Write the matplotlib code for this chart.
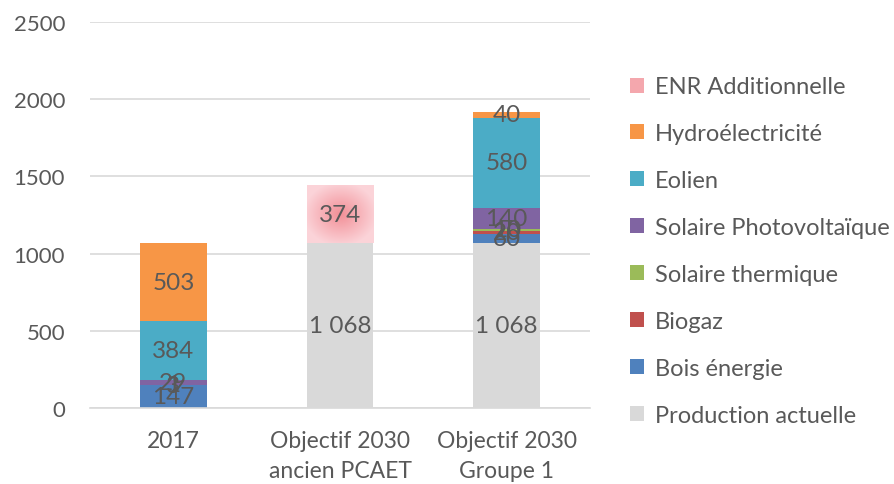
import numpy as np
import matplotlib.pyplot as plt
from matplotlib.patches import Patch

# categories and series (stacked from bottom to top)
categories = ["2017", "Objectif 2030\nancien PCAET", "Objectif 2030\nGroupe 1"]
series_names = ["Production actuelle", "Bois énergie", "Biogaz", "Solaire thermique",
                "Solaire Photovoltaïque", "Eolien", "Hydroélectricité", "ENR Additionnelle"]
production_actuelle = [0, 1068, 1068]
bois_energie = [147, 0, 60]
biogaz = [3, 0, 20]
solaire_thermique = [1, 0, 10]
solaire_pv = [29, 0, 140]
eolien = [384, 0, 580]
hydro = [503, 0, 40]
enr_additionnelle = [0, 374, 0]

colors = ["#d9d9d9", "#4f81bd", "#c0504d", "#9bbb59",
          "#8064a2", "#4bacc6", "#f79646", None]

plt.rcParams['font.family'] = ['Lato', 'DejaVu Sans']
text_col = "#595959"

fig = plt.figure(figsize=(8.94, 4.85), dpi=100)
ax = fig.add_axes([0.1007, 0.1567, 0.5593, 0.7959])

all_series = [production_actuelle, bois_energie, biogaz, solaire_thermique,
              solaire_pv, eolien, hydro, enr_additionnelle]
x = np.arange(len(categories))
width = 0.4
bottom = np.zeros(len(categories))


def fmt(v):
    return f"{v:,}".replace(",", " ")


for name, vals, col in zip(series_names, all_series, colors):
    vals = np.array(vals, dtype=float)
    if col is None:
        # radial pink gradient for the additional share
        bars = ax.bar(x, vals, width, bottom=bottom, facecolor="none", edgecolor="none")
        yy, xx = np.mgrid[-1:1:200j, -1:1:200j]
        r = np.clip(np.sqrt(xx ** 2 + yy ** 2) / 1.1, 0, 1)
        c0 = np.array([0.95, 0.56, 0.59])
        c1 = np.array([0.985, 0.83, 0.85])
        img = c0[None, None, :] * (1 - r[..., None]) + c1[None, None, :] * r[..., None]
        for b in bars:
            if b.get_height() <= 0:
                continue
            x0, y0 = b.get_x(), b.get_y()
            im = ax.imshow(img, extent=[x0, x0 + b.get_width(), y0, y0 + b.get_height()],
                           aspect="auto", zorder=2, interpolation="bilinear")
            im.set_clip_path(b)
    else:
        ax.bar(x, vals, width, bottom=bottom, color=col, zorder=2)
    for i, v in enumerate(vals):
        if v > 0:
            ax.text(x[i], bottom[i] + v / 2, fmt(int(v)), ha="center", va="center",
                    fontsize=17.5, color=text_col, zorder=4)
    bottom += vals

ax.set_xlim(-0.5, 2.5)
ax.set_ylim(0, 2500)
ax.set_yticks(range(0, 2501, 500))
ax.set_xticks(x)
ax.set_xticklabels(categories, linespacing=1.5, fontsize=16.5)
ax.yaxis.grid(True, color="#d9d9d9", linewidth=1.2)
ax.set_axisbelow(True)
for s in ["top", "right", "left"]:
    ax.spines[s].set_visible(False)
ax.spines["bottom"].set_color("#d9d9d9")
ax.spines["bottom"].set_linewidth(1.2)
ax.tick_params(length=0, colors=text_col)
ax.tick_params(axis="y", pad=18, labelsize=16)
ax.tick_params(axis="x", pad=16)

handles = []
for name, col in zip(series_names, colors):
    handles.append(Patch(facecolor=col if col else "#f4a7ad", label=name))
handles = handles[::-1]
leg = fig.legend(handles=handles, loc="upper left", bbox_to_anchor=(0.694, 0.86),
                 frameon=False, fontsize=17, labelcolor=text_col,
                 handlelength=0.6, handleheight=0.6, handletextpad=0.45,
                 labelspacing=1.1, borderaxespad=0)

fig.savefig("out.png", dpi=100)
